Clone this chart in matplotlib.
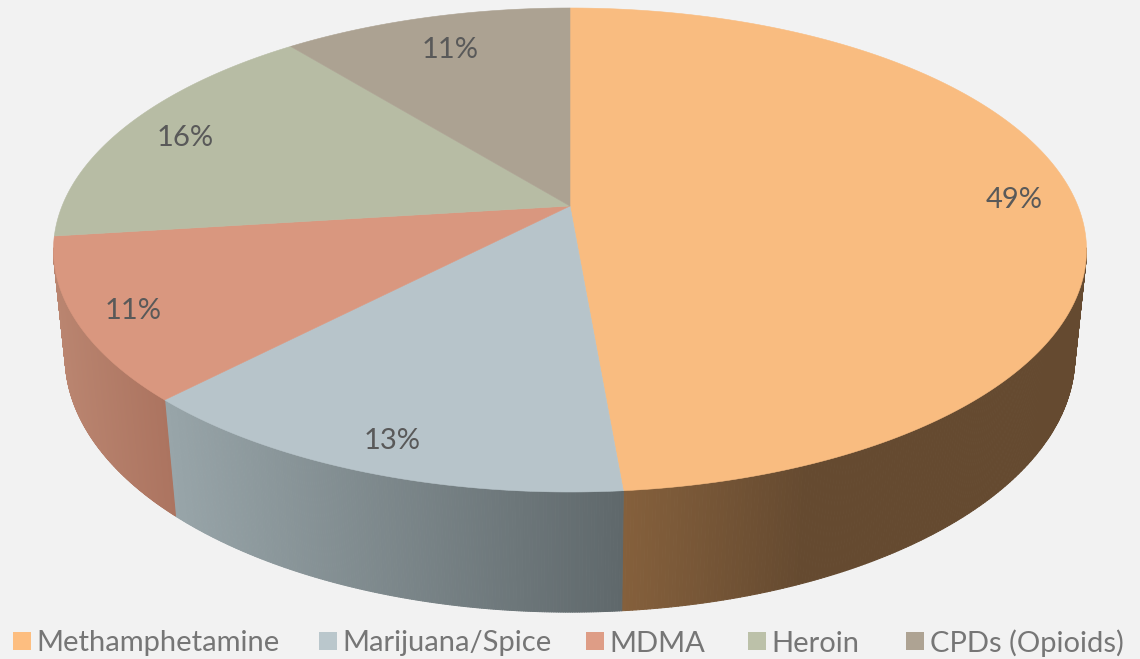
import numpy as np
import matplotlib
matplotlib.use('Agg')
import matplotlib.pyplot as plt
from matplotlib.collections import PolyCollection
from matplotlib.colors import to_rgb
from matplotlib.patches import Polygon, Rectangle

# Chart data
categories = ['Methamphetamine', 'Marijuana/Spice', 'MDMA', 'Heroin', 'CPDs (Opioids)']
shares = [48.63, 13.57, 10.8, 16.2, 10.8]
pct_labels = ['49%', '13%', '11%', '16%', '11%']

top_colors = ['#f9bc80', '#b7c4ca', '#d9977f', '#b7bca4', '#aca292']
legend_colors = ['#fdbe80', '#bac7cc', '#de9d86', '#bcc1a9', '#aea393']
# side wall colour at the left and right end of each slice
side_left = ['#85603c', '#98a5a9', '#ba8570', '#ba8570', '#ba8570']
side_right = ['#654a30', '#5f686b', '#ac7460', '#ac7460', '#ac7460']
side_flat_x = 800

label_pos = [(1014, 200), (392, 441), (133, 311), (185, 138), (450, 50)]
legend_swatch_x = [13, 319, 586, 748, 906]
legend_text_x = [36, 342, 609, 771, 930]

bg = '#f2f2f2'
plt.rcParams['font.family'] = ['Lato', 'DejaVu Sans']


# Perspective projection of the pie rim, theta clockwise from 12 o'clock
def rim(theta, y0, width, height, k):
    u, v = np.sin(theta), np.cos(theta)
    return 570 + width * u / (1 + k * v), y0 - height * v / (1 + k * v)


def top_rim(theta):
    return rim(theta, 206, 507.9, 234, 0.1818)


def bottom_rim(theta):
    return rim(theta, 312, 497, 247.6, 0.175)


edges = 2 * np.pi * np.concatenate([[0], np.cumsum(shares)]) / np.sum(shares)

fig = plt.figure(figsize=(11.4, 6.59), dpi=100, facecolor=bg)
ax = fig.add_axes([0, 0, 1, 1])
ax.set_xlim(0, 1140)
ax.set_ylim(659, 0)
ax.axis('off')

# Side walls, only the front part of the rim can be seen
for i in range(len(shares)):
    start = max(edges[i], np.radians(100))
    end = min(edges[i + 1], np.radians(260))
    if end <= start:
        continue
    t = np.linspace(start, end, 220)
    tx, ty = top_rim(t)
    bx, by = bottom_rim(t)
    x_left, x_right = min(bx), max(bx)
    if i == 0:
        x_right = side_flat_x
    strips = []
    colors = []
    for j in range(len(t) - 1):
        strips.append([(tx[j], ty[j]), (tx[j + 1], ty[j + 1]), (bx[j + 1], by[j + 1]), (bx[j], by[j])])
        f = np.clip((0.5 * (bx[j] + bx[j + 1]) - x_left) / (x_right - x_left), 0, 1)
        colors.append((1 - f) * np.array(to_rgb(side_left[i])) + f * np.array(to_rgb(side_right[i])))
    ax.add_collection(PolyCollection(strips, facecolors=colors, edgecolors='face', linewidths=0.7, zorder=1))

# Top face
for i in range(len(shares)):
    t = np.linspace(edges[i], edges[i + 1], 200)
    x, y = top_rim(t)
    pts = [(570, 206)] + list(zip(x, y))
    ax.add_patch(Polygon(pts, closed=True, facecolor=top_colors[i], edgecolor=top_colors[i], lw=0.4, zorder=2))

for lab, (x, y) in zip(pct_labels, label_pos):
    ax.text(x, y, lab, fontsize=21, color='#595959', ha='center', va='center', zorder=3)

# Legend
for i, name in enumerate(categories):
    ax.add_patch(Rectangle((legend_swatch_x[i], 632), 18, 18, facecolor=legend_colors[i], edgecolor='none'))
    ax.text(legend_text_x[i], 641, name, fontsize=21, color='#767676', ha='left', va='center_baseline')

fig.savefig('out.png', dpi=100, facecolor=bg)
